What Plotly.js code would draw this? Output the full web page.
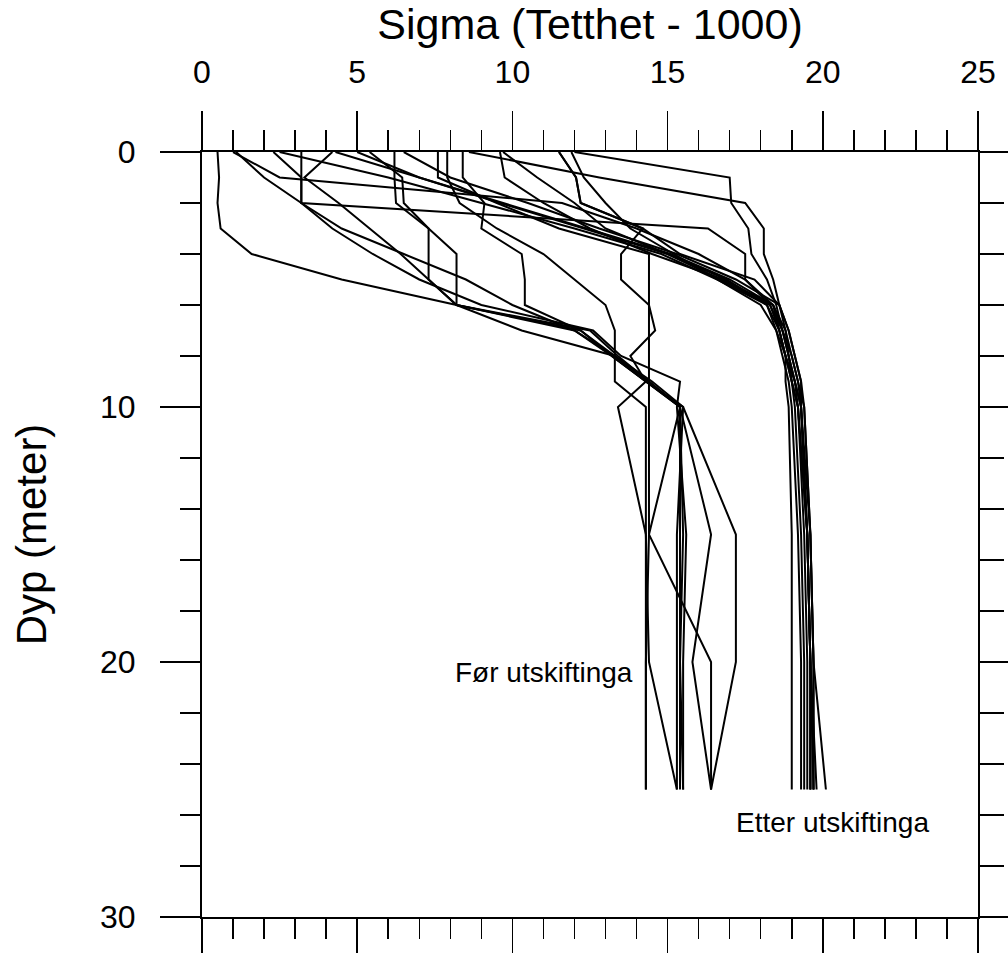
<!DOCTYPE html>
<html>
<head>
<meta charset="utf-8">
<script src="https://cdn.plot.ly/plotly-3.0.1.min.js"></script>
<style>
  html, body { margin: 0; padding: 0; background: #fff; }
  #chart { width: 1008px; height: 953px; }
</style>
</head>
<body>
<div id="chart"></div>
<script>
// Depths (m) at which sigma was sampled
const depths = [0, 1, 2, 3, 4, 5, 6, 7, 8, 9, 10, 15, 20, 25];

// Profiles before the water exchange ("Før utskiftinga")
const F1  = [0.5, 0.55, 0.5, 0.6, 1.6, 4.5, 8.2, 10.3, 13.3, 14.4, 15.4, 15.4, 15.4, 15.4];
const F2  = [5.4, 6.45, 6.5, 7.3, 7.3, 7.3, 8.2, 12.2, 13.2, 14.3, 15.4, 16.4, 15.8, 16.4];
const F3  = [6.2, 6.2, 6.25, 7.3, 8.2, 8.2, 8.2, 12.0, 13.2, 14.3, 15.5, 17.2, 17.2, 16.4];
const F4  = [8.4, 8.4, 9.1, 9.0, 10.3, 10.4, 10.4, 12.2, 13.3, 14.3, 15.4, 15.5, 15.4, 15.5];
const F5  = [7.9, 7.9, 8.3, 9.5, 11.0, 12.0, 13.0, 13.3, 13.3, 13.3, 14.3, 14.3, 14.3, 14.3];
const F6  = [11.5, 12.05, 12.2, 14.2, 13.5, 13.5, 14.4, 14.6, 13.8, 14.3, 13.4, 14.3, 14.4, 15.3];
const F7  = [7.6, 7.6, 9.5, 11.5, 14.4, 14.4, 14.4, 14.4, 14.4, 14.4, 14.4, 14.4, 14.3, 14.3];
const F8  = [4.2, 3.3, 4.4, 5.4, 6.4, 7.3, 8.2, 12.5, 13.4, 14.4, 15.4, 14.4, 16.4, 16.4];
const F9  = [2.3, 3.2, 3.2, 4.5, 6.5, 8.5, 10.0, 12.0, 13.3, 14.5, 15.5, 15.3, 15.3, 15.3];
const F10 = [1.1, 2.0, 3.2, 4.2, 5.5, 7.0, 9.0, 12.6, 13.5, 15.4, 15.3, 15.6, 15.5, 15.5];

// Profiles after the water exchange ("Etter utskiftinga")
const E1  = [12.0, 17.0, 17.05, 17.6, 17.7, 18.2, 18.5, 18.7, 18.9, 19.0, 19.2, 19.5, 19.6, 19.6];
const E2  = [8.6, 12.8, 17.5, 18.1, 18.1, 18.4, 18.6, 18.8, 19.0, 19.2, 19.3, 19.5, 19.6, 19.7];
const E3  = [1.0, 2.5, 11.6, 14.0, 16.0, 17.5, 18.4, 18.8, 18.9, 19.1, 19.3, 19.6, 19.7, 20.1];
const E4  = [3.2, 3.2, 3.2, 16.3, 17.5, 17.5, 18.3, 18.7, 19.0, 19.2, 19.4, 19.6, 19.7, 19.7];
const E5  = [9.6, 9.75, 11.0, 12.5, 14.5, 16.8, 18.4, 18.6, 18.8, 19.1, 19.2, 19.4, 19.5, 19.5];
const E6  = [9.7, 10.8, 12.0, 13.0, 15.0, 16.9, 18.2, 18.6, 18.8, 18.8, 18.9, 19.0, 19.0, 19.0];
const E7  = [4.3, 7.0, 9.7, 12.4, 15.1, 17.0, 18.4, 18.7, 18.9, 19.1, 19.3, 19.5, 19.6, 19.6];
const E8  = [5.0, 7.0, 9.6, 12.3, 15.0, 16.7, 18.3, 18.6, 18.8, 19.0, 19.1, 19.3, 19.4, 19.4];
const E9  = [11.9, 12.3, 13.0, 13.8, 15.2, 16.6, 18.0, 18.5, 18.8, 19.0, 19.2, 19.5, 19.6, 19.8];
const E10 = [6.5, 8.0, 10.5, 12.8, 15.3, 17.2, 18.6, 18.9, 19.1, 19.3, 19.4, 19.6, 19.7, 19.7];
const E11 = [2.5, 6.0, 9.0, 12.0, 14.8, 16.6, 18.2, 18.5, 18.7, 18.9, 19.0, 19.2, 19.3, 19.3];
const E12 = [11.5, 12.05, 12.2, 14.2, 15.4, 17.8, 18.6, 18.9, 19.1, 19.3, 19.3, 19.5, 19.6, 19.6];

const beforeProfiles = [F1, F2, F3, F4, F5, F6, F7, F8, F9, F10];
const afterProfiles  = [E1, E2, E3, E4, E5, E6, E7, E8, E9, E10, E11, E12];

const xTitle = 'Sigma (Tetthet - 1000)';
const yTitle = 'Dyp (meter)';
const labelBefore = 'Før utskiftinga';
const labelAfter  = 'Etter utskiftinga';

const FONT = 'Liberation Sans, Arial, Helvetica, sans-serif';

function profileTrace(sig) {
  return {
    x: sig, y: depths, type: 'scatter', mode: 'lines',
    line: { color: '#000', width: 2 },
    hoverinfo: 'skip', showlegend: false
  };
}

const traces = beforeProfiles.concat(afterProfiles).map(profileTrace);
// empty trace so that the mirrored (bottom/right) axes get a subplot
traces.push({ x: [], y: [], xaxis: 'x2', yaxis: 'y2', type: 'scatter', mode: 'lines', showlegend: false });

const baseAxis = {
  showgrid: false, zeroline: false, showline: true,
  linecolor: '#000', linewidth: 2,
  ticks: 'outside', tickcolor: '#000', tickwidth: 1.5
};

const layout = {
  width: 1008, height: 953,
  margin: { l: 202, r: 30, t: 152, b: 36, pad: 0 },
  paper_bgcolor: '#fff', plot_bgcolor: '#fff',
  font: { family: FONT, color: '#000' },
  showlegend: false,
  xaxis: Object.assign({}, baseAxis, {
    side: 'top', range: [0, 25], dtick: 5, tick0: 0,
    ticklen: 39, ticklabelstandoff: 15,
    tickfont: { size: 32, family: FONT },
    minor: { dtick: 1, ticklen: 20, tickwidth: 1.5, tickcolor: '#000', ticks: 'outside' },
    title: { text: xTitle, font: { size: 43, family: FONT }, standoff: 2 }
  }),
  xaxis2: Object.assign({}, baseAxis, {
    overlaying: 'x', side: 'bottom', anchor: 'y', range: [0, 25], dtick: 5, tick0: 0,
    ticklen: 40, showticklabels: false,
    minor: { dtick: 1, ticklen: 20, tickwidth: 1.5, tickcolor: '#000', ticks: 'outside' }
  }),
  yaxis: Object.assign({}, baseAxis, {
    range: [30, 0], dtick: 10, tick0: 0,
    ticklen: 40, ticklabelstandoff: 18,
    tickfont: { size: 32, family: FONT },
    minor: { dtick: 2, ticklen: 20, tickwidth: 1.5, tickcolor: '#000', ticks: 'outside' },
    title: { text: yTitle, font: { size: 42, family: FONT }, standoff: 40 }
  }),
  yaxis2: Object.assign({}, baseAxis, {
    overlaying: 'y', side: 'right', anchor: 'x', range: [30, 0], dtick: 10, tick0: 0,
    ticklen: 32, showticklabels: false,
    minor: { dtick: 2, ticklen: 24, tickwidth: 1.5, tickcolor: '#000', ticks: 'outside' }
  }),
  annotations: [
    { text: labelBefore, xref: 'x', yref: 'y', x: 13.95, y: 20.4, xanchor: 'right', yanchor: 'middle',
      showarrow: false, font: { size: 28, family: FONT, color: '#000' } },
    { text: labelAfter, xref: 'x', yref: 'y', x: 17.15, y: 26.3, xanchor: 'left', yanchor: 'middle',
      showarrow: false, font: { size: 28, family: FONT, color: '#000' } }
  ]
};

Plotly.newPlot('chart', traces, layout, { staticPlot: true, displayModeBar: false });
</script>
</body>
</html>
